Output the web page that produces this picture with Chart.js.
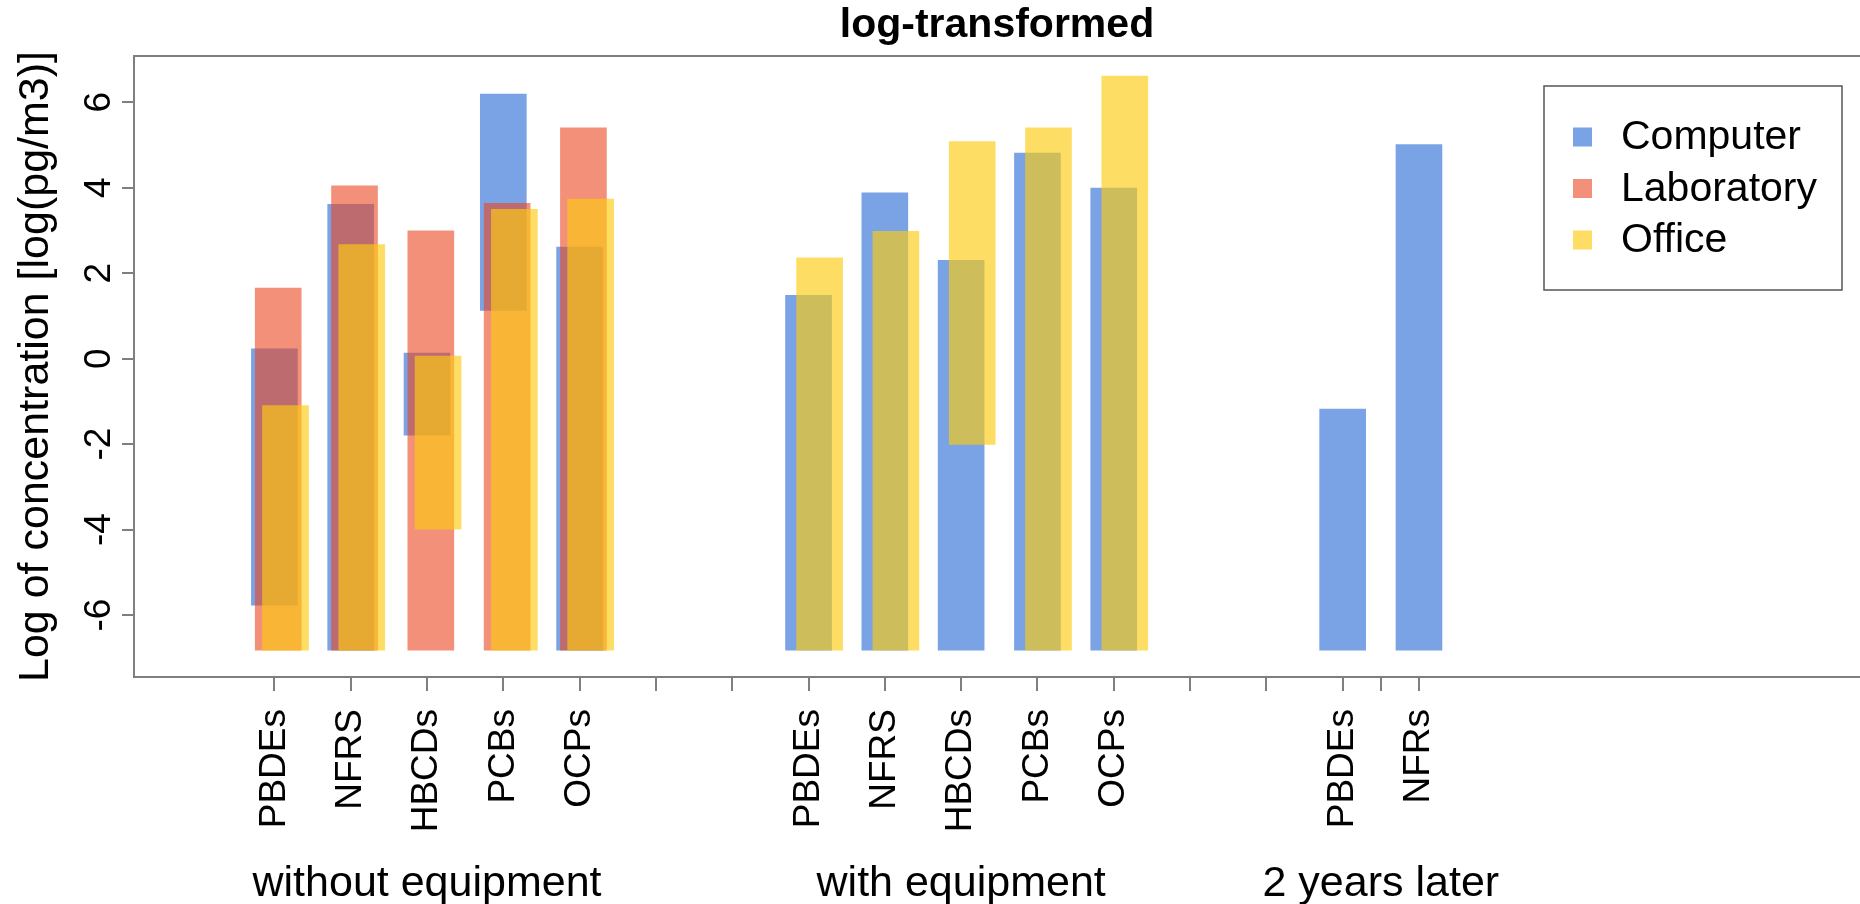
<!DOCTYPE html>
<html>
<head>
<meta charset="utf-8">
<script src="https://cdn.jsdelivr.net/npm/chart.js@4/dist/chart.umd.min.js"></script>
<style>
html,body{margin:0;padding:0;background:#fff;overflow:hidden}
#wrap{width:1860px;height:904px;position:relative}
</style>
</head>
<body>
<div id="wrap"><canvas id="c" width="1860" height="904"></canvas></div>
<script>
// ---- data ----
const categories = ['PBDEs','NFRS','HBCDs','PCBs','OCPs','','','PBDEs','NFRS','HBCDs','PCBs','OCPs','','','PBDEs','NFRs'];
const tickPositions = [0,1,2,3,4,5,6,7,8,9,10,11,12,13,14,14.5,15];
const yTicks = [-6,-4,-2,0,2,4,6];
const groupLabels = ['without equipment','with equipment','2 years later'];
const groupCenters = [2, 9, 14.5];
const seriesNames = ['Computer','Laboratory','Office'];

const computerLow  = [-5.77,-6.82,-1.79, 1.13,-6.82,null,null,-6.82,-6.82,-6.82,-6.82,-6.82,null,null,-6.82,-6.82];
const computerHigh = [ 0.23, 3.61, 0.13, 6.19, 2.61,null,null, 1.48, 3.88, 2.30, 4.81, 3.99,null,null,-1.18, 5.01];
const labLow       = [-6.82,-6.82,-6.82,-6.82,-6.82,null,null,null,null,null,null,null,null,null,null,null];
const labHigh      = [ 1.65, 4.04, 2.99, 3.63, 5.40,null,null,null,null,null,null,null,null,null,null,null];
const officeLow    = [-6.82,-6.82,-3.99,-6.82,-6.82,null,null,-6.82,-6.82,-2.01,-6.82,-6.82,null,null,null,null];
const officeHigh   = [-1.10, 2.67, 0.06, 3.49, 3.73,null,null, 2.36, 2.98, 5.08, 5.40, 6.61,null,null,null,null];

// ---- styles ----
const FONT = "'Liberation Sans', Arial, Helvetica, sans-serif";
const seriesOffsets = [0, 0.05, 0.145];
const seriesColors = ['rgb(122,163,230)', 'rgba(235,70,33,0.6)', 'rgba(252,203,17,0.65)'];
const AXIS = '#7f7f7f';

function build(lo, hi, off) {
  const out = [];
  lo.forEach((l, i) => {
    if (l !== null && hi[i] !== null) out.push({x: i + off, y: [l, hi[i]]});
  });
  return out;
}

const decor = {
  id: 'decor',
  afterDraw(chart) {
    const ctx = chart.ctx, ca = chart.chartArea;
    const ys = chart.scales.y, xs = chart.scales.x;
    ctx.save();
    // top border of plot box
    ctx.strokeStyle = AXIS; ctx.lineWidth = 2;
    ctx.beginPath(); ctx.moveTo(ca.left, ca.top); ctx.lineTo(chart.width, ca.top); ctx.stroke();
    // rotated y tick labels
    ctx.fillStyle = '#000';
    ctx.font = '37px ' + FONT;
    ctx.textAlign = 'center'; ctx.textBaseline = 'alphabetic';
    ys.ticks.forEach(t => {
      const py = ys.getPixelForValue(t.value);
      ctx.save(); ctx.translate(110, py); ctx.rotate(-Math.PI/2);
      ctx.fillText(String(t.value), 0, 0); ctx.restore();
    });
    // group labels
    ctx.font = '43px ' + FONT;
    ctx.textAlign = 'center'; ctx.textBaseline = 'alphabetic';
    groupLabels.forEach((g, i) => {
      ctx.fillText(g, xs.getPixelForValue(groupCenters[i]), 896);
    });
    // legend
    const lx = 1544, ly = 86, lw = 298, lh = 204;
    ctx.fillStyle = '#fff'; ctx.fillRect(lx, ly, lw, lh);
    ctx.strokeStyle = '#555'; ctx.lineWidth = 1.5;
    ctx.strokeRect(lx, ly, lw, lh);
    ctx.font = '41px ' + FONT; ctx.textAlign = 'left'; ctx.textBaseline = 'middle';
    chart.data.datasets.forEach((ds, i) => {
      const cy = 137 + i * 51.5;
      ctx.fillStyle = ds.backgroundColor;
      ctx.fillRect(1573, cy - 9.5, 19, 19);
      ctx.fillStyle = '#000';
      ctx.fillText(ds.label, 1621, cy + 1);
    });
    ctx.restore();
  }
};

new Chart(document.getElementById('c'), {
  type: 'bar',
  data: {
    datasets: [
      {label: seriesNames[0], data: build(computerLow, computerHigh, seriesOffsets[0]), backgroundColor: seriesColors[0], order: 3},
      {label: seriesNames[1], data: build(labLow, labHigh, seriesOffsets[1]), backgroundColor: seriesColors[1], order: 2},
      {label: seriesNames[2], data: build(officeLow, officeHigh, seriesOffsets[2]), backgroundColor: seriesColors[2], order: 1}
    ]
  },
  options: {
    responsive: false,
    animation: false,
    devicePixelRatio: 1,
    layout: {padding: 0},
    datasets: {bar: {grouped: false, barThickness: 46, borderWidth: 0, borderSkipped: false}},
    plugins: {
      legend: {display: false},
      tooltip: {enabled: false},
      title: {display: true, text: 'log-transformed', fullSize: false, color: '#000',
              font: {family: FONT, size: 41, weight: 'bold'}, padding: {top: 1.4, bottom: 5.4}}
    },
    scales: {
      x: {
        type: 'linear', min: -1.84, max: 20.78, bounds: 'data', offset: false,
        afterBuildTicks: s => { s.ticks = tickPositions.map(v => ({value: v})); },
        afterFit: s => { s.height = 227; },
        ticks: {autoSkip: false, minRotation: 90, maxRotation: 90, padding: 18, color: '#000',
                font: {family: FONT, size: 37},
                callback: v => (Number.isInteger(v) ? (categories[v] || '') : '')},
        grid: {offset: false, drawOnChartArea: false, drawTicks: true, tickLength: 14, color: AXIS, lineWidth: 2},
        border: {display: true, color: AXIS, width: 2}
      },
      y: {
        type: 'linear', min: -7.45, max: 7.08, bounds: 'data',
        afterBuildTicks: s => { s.ticks = yTicks.map(v => ({value: v})); },
        afterFit: s => { s.width = 134; },
        ticks: {display: false},
        grid: {drawOnChartArea: false, drawTicks: true, tickLength: 12, color: AXIS, lineWidth: 2},
        border: {display: true, color: AXIS, width: 2},
        title: {display: true, text: 'Log of concentration [log(pg/m3)]', color: '#000',
                font: {family: FONT, size: 43}, padding: {top: 10, bottom: 0}}
      }
    }
  },
  plugins: [decor]
});
</script>
</body>
</html>
